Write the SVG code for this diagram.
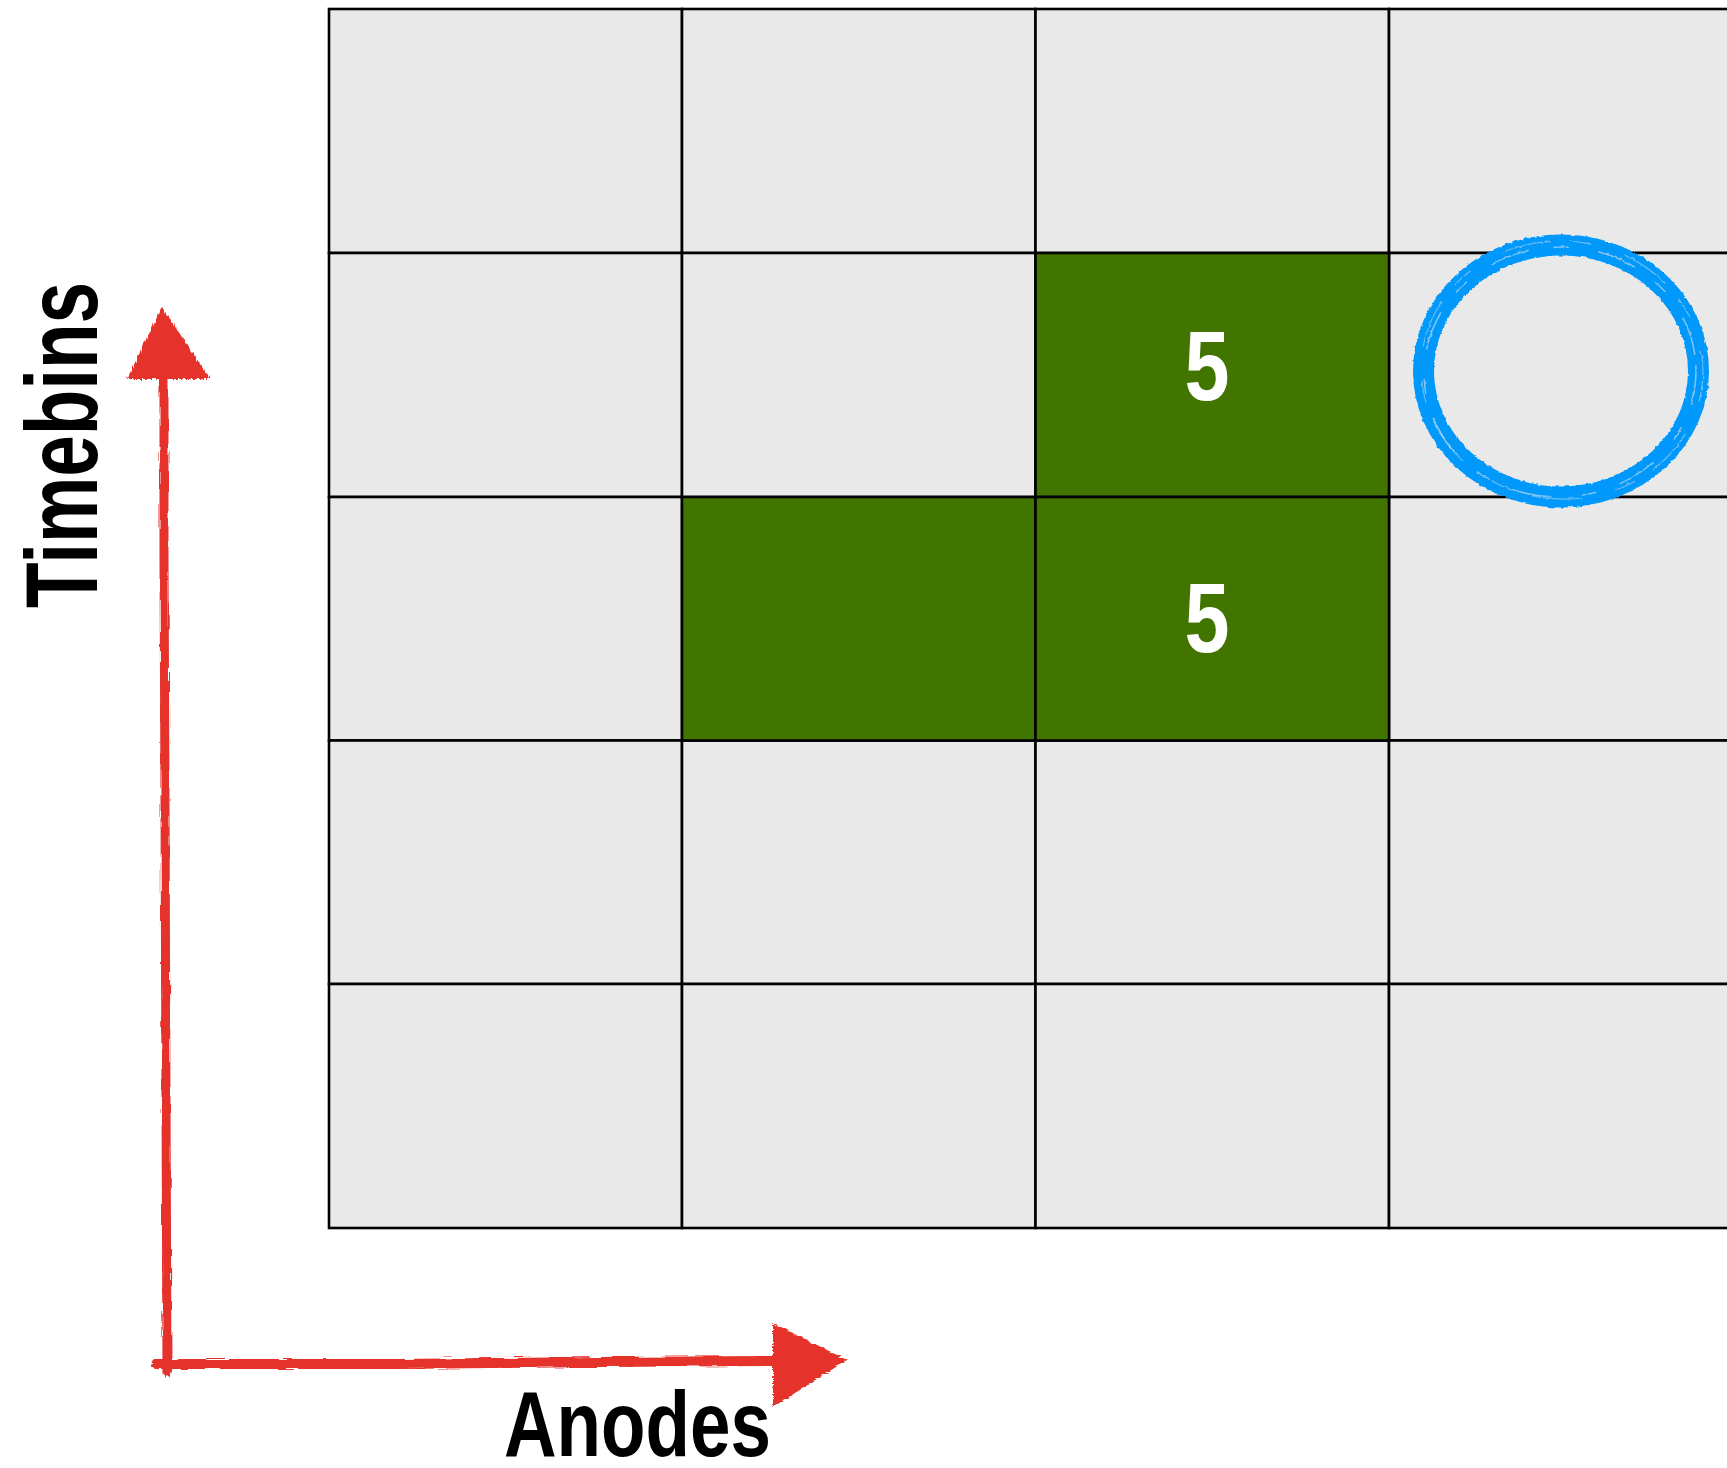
<svg xmlns="http://www.w3.org/2000/svg" width="1727" height="1468" viewBox="0 0 1727 1468">
<style>
.cell{fill:#e9e9e9;stroke:#000;stroke-width:2.6}
.hit{fill:#427500;stroke:#000;stroke-width:2.6}
.num{font-family:"Liberation Sans Narrow","Liberation Sans",Arial,sans-serif;font-weight:bold;font-size:99px;fill:#fff;text-anchor:middle}
.axis{font-family:"Liberation Sans Narrow","Liberation Sans",Arial,sans-serif;font-weight:bold;fill:#000}
.red{fill:none;stroke:#e5312a;stroke-linecap:round}
.redf{fill:#e5312a}
.blue{fill:none;stroke:#0098fb}
</style>
<defs>
<filter id="roughV" x="-50%" y="-5%" width="200%" height="110%">
<feTurbulence type="fractalNoise" baseFrequency="0.9 0.03" numOctaves="2" seed="4" result="n"/>
<feDisplacementMap in="SourceGraphic" in2="n" scale="5" xChannelSelector="R" yChannelSelector="G"/>
</filter>
<filter id="roughH" x="-5%" y="-50%" width="110%" height="200%">
<feTurbulence type="fractalNoise" baseFrequency="0.03 0.9" numOctaves="2" seed="7" result="n"/>
<feDisplacementMap in="SourceGraphic" in2="n" scale="5" xChannelSelector="R" yChannelSelector="G"/>
</filter>
<filter id="roughC" x="-10%" y="-10%" width="120%" height="120%">
<feTurbulence type="fractalNoise" baseFrequency="0.2" numOctaves="2" seed="2" result="n"/>
<feDisplacementMap in="SourceGraphic" in2="n" scale="3" xChannelSelector="R" yChannelSelector="G"/>
</filter>
</defs>
<rect x="0" y="0" width="1727" height="1468" fill="#fff"/>

<g id="grid">
<g id="r0">
<rect id="c0-0" class="cell" x="329" y="9" width="353" height="244"/>
<rect id="c0-1" class="cell" x="682" y="9" width="353.5" height="244"/>
<rect id="c0-2" class="cell" x="1035.5" y="9" width="353.5" height="244"/>
<rect id="c0-3" class="cell" x="1389" y="9" width="353.5" height="244"/>
</g>
<g id="r1">
<rect id="c1-0" class="cell" x="329" y="253" width="353" height="244"/>
<rect id="c1-1" class="cell" x="682" y="253" width="353.5" height="244"/>
<rect id="c1-3" class="cell" x="1389" y="253" width="353.5" height="244"/>
</g>
<g id="r2">
<rect id="c2-0" class="cell" x="329" y="497" width="353" height="243.5"/>
<rect id="c2-3" class="cell" x="1389" y="497" width="353.5" height="243.5"/>
</g>
<g id="r3">
<rect id="c3-0" class="cell" x="329" y="740.5" width="353" height="243.5"/>
<rect id="c3-1" class="cell" x="682" y="740.5" width="353.5" height="243.5"/>
<rect id="c3-2" class="cell" x="1035.5" y="740.5" width="353.5" height="243.5"/>
<rect id="c3-3" class="cell" x="1389" y="740.5" width="353.5" height="243.5"/>
</g>
<g id="r4">
<rect id="c4-0" class="cell" x="329" y="984" width="353" height="244"/>
<rect id="c4-1" class="cell" x="682" y="984" width="353.5" height="244"/>
<rect id="c4-2" class="cell" x="1035.5" y="984" width="353.5" height="244"/>
<rect id="c4-3" class="cell" x="1389" y="984" width="353.5" height="244"/>
</g>
<g id="hit-1-2">
<rect class="hit" x="1035.5" y="253" width="353.5" height="244"/>
<text class="num" x="1207" y="400" textLength="45" lengthAdjust="spacingAndGlyphs">5</text>
</g>
<g id="hit-2-1">
<rect class="hit" x="682" y="497" width="353.5" height="243.5"/>
</g>
<g id="hit-2-2">
<rect class="hit" x="1035.5" y="497" width="353.5" height="243.5"/>
<text class="num" x="1207" y="652" textLength="45" lengthAdjust="spacingAndGlyphs">5</text>
</g>
</g>

<g id="highlight" filter="url(#roughC)">
<ellipse class="blue" cx="1561" cy="371" rx="137.5" ry="126" stroke-width="21"/>
<ellipse cx="1560" cy="372" rx="136" ry="125" fill="none" stroke="#e9e9e9" stroke-opacity="0.55" stroke-width="1.5" stroke-dasharray="40 25 15 30" transform="rotate(-3 1560 372)"/>
<ellipse cx="1562" cy="370" rx="141" ry="129" fill="none" stroke="#e9e9e9" stroke-opacity="0.45" stroke-width="1.2" stroke-dasharray="22 35 50 20" transform="rotate(4 1562 370)"/>
</g>

<g id="connectors">
<g id="axis-time" filter="url(#roughV)">
<path class="red" d="M167 1372 L166 1100 L165 800 L164 560 L164 372" stroke-width="9"/>
<polygon class="redf" points="162,307 127,379 210,379"/>
</g>
<g id="axis-anode" filter="url(#roughH)">
<path class="red" d="M156 1364 L400 1364 L600 1362 L778 1361" stroke-width="10"/>
<polygon class="redf" points="773,1323 847,1360 773,1407"/>
</g>
</g>

<g id="labels">
<text id="lbl-time" class="axis" font-size="102" transform="translate(97 608) rotate(-90)" x="0" y="0" textLength="326" lengthAdjust="spacingAndGlyphs">Timebins</text>
<text id="lbl-anode" class="axis" font-size="92" x="504" y="1456" textLength="267" lengthAdjust="spacingAndGlyphs">Anodes</text>
</g>
</svg>
